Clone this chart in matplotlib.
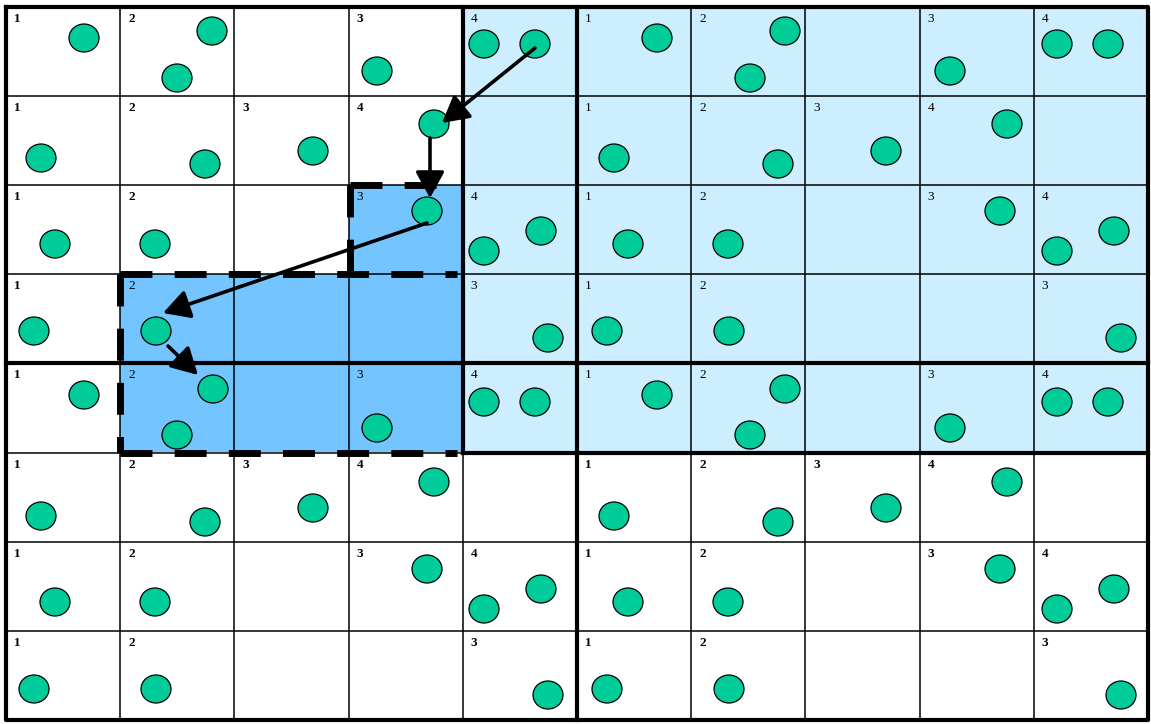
import matplotlib.pyplot as plt
from matplotlib.patches import Ellipse, Rectangle

# grid: 8 rows x 10 columns, cell labels ('' = no label)
row_labels = [
    ['1', '2', '', '3', '4', '1', '2', '', '3', '4'],
    ['1', '2', '3', '4', '', '1', '2', '3', '4', ''],
    ['1', '2', '', '3', '4', '1', '2', '', '3', '4'],
    ['1', '2', '', '', '3', '1', '2', '', '', '3'],
    ['1', '2', '', '3', '4', '1', '2', '', '3', '4'],
    ['1', '2', '3', '4', '', '1', '2', '3', '4', ''],
    ['1', '2', '', '3', '4', '1', '2', '', '3', '4'],
    ['1', '2', '', '', '3', '1', '2', '', '', '3'],
]

# circle centres (pixel coords, y downwards)
circle_x = [84, 212, 177, 377, 484, 535, 657, 785, 750, 950, 1057, 1108,
            41, 205, 313, 434, 614, 778, 886, 1007,
            55, 155, 427, 484, 541, 628, 728, 1000, 1057, 1114,
            34, 156, 548, 607, 729, 1121,
            84, 213, 177, 377, 484, 535, 657, 785, 750, 950, 1057, 1108,
            41, 205, 313, 434, 614, 778, 886, 1007,
            55, 155, 427, 484, 541, 628, 728, 1000, 1057, 1114,
            34, 156, 548, 607, 729, 1121]
circle_y = [38, 31, 78, 71, 44, 44, 38, 31, 78, 71, 44, 44,
            158, 164, 151, 124, 158, 164, 151, 124,
            244, 244, 211, 251, 231, 244, 244, 211, 251, 231,
            331, 331, 338, 331, 331, 338,
            395, 389, 435, 428, 402, 402, 395, 389, 435, 428, 402, 402,
            516, 522, 508, 482, 516, 522, 508, 482,
            602, 602, 569, 609, 589, 602, 602, 569, 609, 589,
            689, 689, 695, 689, 689, 695]

# arrows: (tail, head)
arrows = [((535, 48), (442, 123)),
          ((430, 138), (430, 198)),
          ((427, 223), (163, 313)),
          ((168, 346), (198, 375))]

x0, y0 = 6, 7
cw, ch = 114.2, 89.1
ncol, nrow = 10, 8

light_blue = '#cceeff'
mid_blue = '#73c4ff'
green = '#00cc99'

fig = plt.figure(figsize=(11.51, 7.24), dpi=100)
ax = fig.add_axes([0, 0, 1, 1])
ax.set_xlim(0, 1151)
ax.set_ylim(724, 0)
ax.axis('off')

def cx(c):
    return x0 + c * cw

def cy(r):
    return y0 + r * ch

# shaded blocks
ax.add_patch(Rectangle((cx(4), cy(0)), 6 * cw, 5 * ch, fc=light_blue, ec='none', zorder=0))
ax.add_patch(Rectangle((cx(3), cy(2)), cw, ch, fc=mid_blue, ec='none', zorder=0))
ax.add_patch(Rectangle((cx(1), cy(3)), 3 * cw, 2 * ch, fc=mid_blue, ec='none', zorder=0))

# thin grid
for c in range(ncol + 1):
    ax.plot([cx(c), cx(c)], [cy(0), cy(nrow)], color='black', lw=1.1, zorder=1)
for r in range(nrow + 1):
    ax.plot([cx(0), cx(ncol)], [cy(r), cy(r)], color='black', lw=1.1, zorder=1)

# thick block borders
thick = dict(color='black', lw=3.0, zorder=2, solid_capstyle='projecting')
ax.plot([cx(0), cx(10), cx(10), cx(0), cx(0)],
        [cy(0), cy(0), cy(8), cy(8), cy(0)], **thick)
ax.plot([cx(4), cx(4)], [cy(0), cy(5)], **thick)
ax.plot([cx(5), cx(5)], [cy(0), cy(8)], **thick)
ax.plot([cx(0), cx(10)], [cy(4), cy(4)], **thick)
ax.plot([cx(4), cx(10)], [cy(5), cy(5)], **thick)

# dashed outline of the search region, each side starts at its corner
dash = dict(color='black', lw=5, zorder=3, dashes=(4.6, 3.2))
xa, xb, xe = cx(1), cx(3) + 1, cx(4) - 6
ax.plot([xb, xe], [cy(2), cy(2)], **dash)
ax.plot([xb, xb], [cy(2), cy(3)], **dash)
ax.plot([xa, xe], [cy(3), cy(3)], **dash)
ax.plot([xa, xa], [cy(3), cy(5)], **dash)
ax.plot([xa, xe], [cy(5), cy(5)], **dash)

# labels
for r, labels in enumerate(row_labels):
    for c, lab in enumerate(labels):
        if not lab:
            continue
        shaded = (c >= 4 and r <= 4) or (r == 2 and c == 3) or (r in (3, 4) and 1 <= c <= 3)
        ax.text(cx(c) + 8, cy(r) + 6, lab, ha='left', va='top', fontsize=9.5,
                family='Liberation Serif', fontweight='normal' if shaded else 'bold',
                zorder=4)

# circles
for x, y in zip(circle_x, circle_y):
    ax.add_patch(Ellipse((x, y), 30, 28, fc=green, ec='black', lw=0.9, zorder=5))

# arrows
for (tx, ty), (hx, hy) in arrows:
    ax.annotate('', xy=(hx, hy), xytext=(tx, ty),
                arrowprops=dict(arrowstyle='-|>,head_length=0.4,head_width=0.22',
                                mutation_scale=40, lw=2.6, color='black',
                                shrinkA=0, shrinkB=0),
                zorder=6)

fig.savefig('out.png', dpi=100)
